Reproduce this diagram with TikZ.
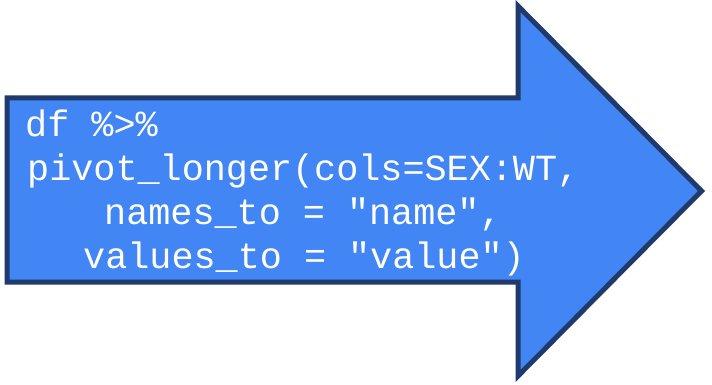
\documentclass[tikz,border=0pt]{standalone}
\usepackage{fontspec}
\newfontfamily\codefont{Liberation Mono}
\usetikzlibrary{calc}
\definecolor{arrowfill}{HTML}{4285F4}
\definecolor{arrowline}{HTML}{1F3A6B}

\begin{document}
\begin{tikzpicture}[x=1pt,y=-1pt,
    arrowbox/.style={fill=arrowfill,draw=arrowline,line width=5pt,miter limit=10},
    code/.style={anchor=base west,inner sep=0pt,text=white,font=\codefont\fontsize{36.8}{44}\selectfont}]
    \useasboundingbox (0,0) rectangle (712,385);
    \draw[arrowbox] (7,98) -- (518,98) -- (518,6) -- (701.5,191) -- (518,376) -- (518,282) -- (7,282) -- cycle;
    \node[code] (pipe) at (25,136) {df \%>\%};
    \node[code] (pivot) at (27,180) {pivot\_longer(cols=SEX:WT,};
    \node[code] (names) at (104,224) {names\_to = "name",};
    \node[code] (values) at (83,268) {values\_to = "value")};
\end{tikzpicture}
\end{document}
